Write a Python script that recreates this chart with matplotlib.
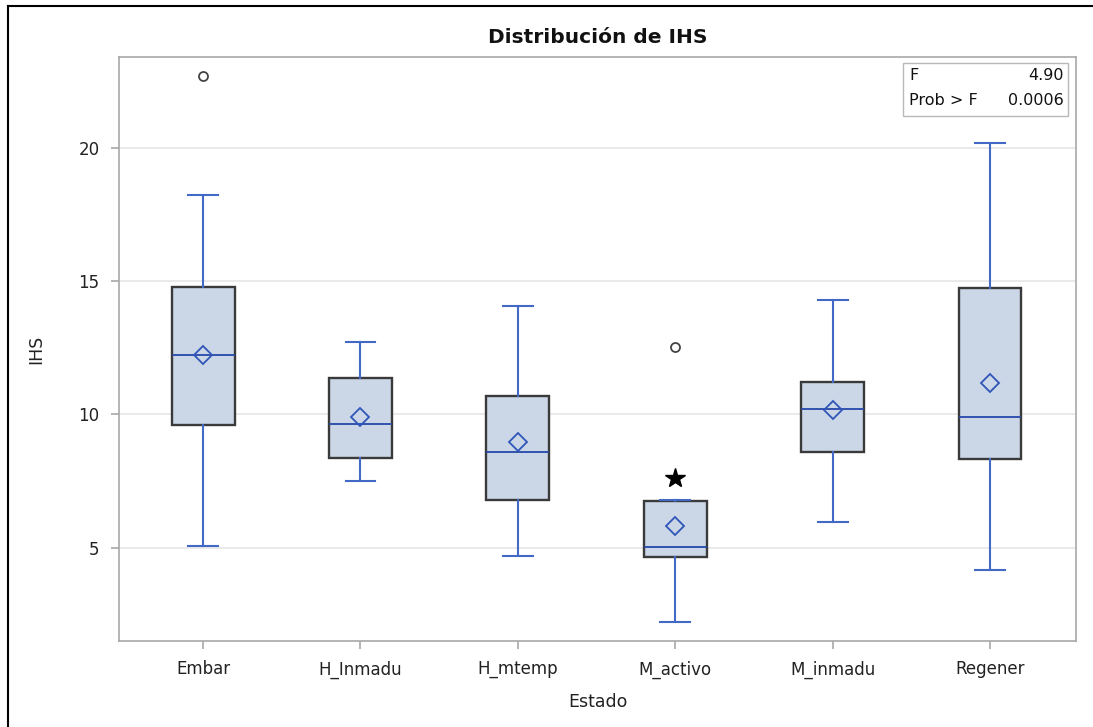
import matplotlib
matplotlib.use("Agg")
import matplotlib.pyplot as plt
from matplotlib.lines import Line2D

plt.rcParams['font.family'] = ['DejaVu Sans']

# group summaries
estados = ['Embar', 'H_Inmadu', 'H_mtemp', 'M_activo', 'M_inmadu', 'Regener']
whislo = [5.05, 7.49, 4.70, 2.23, 5.98, 4.18]
q1 = [9.59, 8.35, 6.80, 4.66, 8.58, 8.31]
med = [12.22, 9.63, 8.58, 5.02, 10.20, 9.89]
media = [12.22, 9.89, 8.95, 5.83, 10.15, 11.19]
q3 = [14.79, 11.36, 10.68, 6.75, 11.21, 14.72]
whishi = [18.22, 12.71, 14.06, 6.80, 14.30, 20.17]
atipicos = [[22.7], [], [], [12.53], [], []]
extremos = [[], [], [], [7.63], [], []]

f_val = '4.90'
p_val = '0.0006'

fig = plt.figure(figsize=(10.93, 7.27), dpi=100)
ax = fig.add_axes([0.1089, 0.1183, 0.8755, 0.8033])

stats = []
for i, e in enumerate(estados):
    stats.append(dict(label=e, whislo=whislo[i], q1=q1[i], med=med[i],
                      q3=q3[i], whishi=whishi[i], mean=media[i],
                      fliers=atipicos[i]))

azul = '#4269c6'
ax.bxp(stats, positions=range(len(estados)), widths=0.40, capwidths=0.19,
       patch_artist=True, showmeans=True, showfliers=True,
       boxprops=dict(facecolor='#cbd6e6', edgecolor='#3a3a3a', linewidth=1.7),
       whiskerprops=dict(color=azul, linewidth=1.5),
       capprops=dict(color=azul, linewidth=1.5),
       medianprops=dict(color='#2748a8', linewidth=1.3),
       meanprops=dict(marker='D', markersize=9, markerfacecolor='none',
                      markeredgecolor='#2f55b8', markeredgewidth=1.3),
       flierprops=dict(marker='o', markersize=6.5, markerfacecolor='none',
                       markeredgecolor='#444444', markeredgewidth=1.3))

for i, vals in enumerate(extremos):
    if vals:
        ax.plot([i] * len(vals), vals, marker='*', markersize=15,
                color='black', linestyle='none', zorder=4)

ax.set_xlim(-0.534, 5.546)
ax.set_ylim(1.5, 23.4)
ax.set_yticks([5, 10, 15, 20])
ax.set_xticks(range(len(estados)))
ax.set_xticklabels(estados)
ax.yaxis.grid(True, color='#e6e6e6', linewidth=1.2)
ax.set_axisbelow(True)

for s in ax.spines.values():
    s.set_color('#a8a8a8')
    s.set_linewidth(1.2)
ax.tick_params(axis='both', colors='#a8a8a8', length=6, width=1.2,
               labelcolor='#222222', labelsize=12, pad=8)

ax.set_title('Distribución de IHS', fontsize=14.5, fontweight='bold',
             color='#111111', pad=10)
ax.set_xlabel('Estado', fontsize=12.5, color='#222222', labelpad=10)
ax.set_ylabel('IHS', fontsize=12.5, color='#222222', labelpad=24)

# F statistic inset
ax.text(0.8255, 0.969, 'F', transform=ax.transAxes, fontsize=11.5,
        ha='left', va='center', color='#111111', zorder=6)
ax.text(0.9875, 0.969, f_val, transform=ax.transAxes, fontsize=11.5,
        ha='right', va='center', color='#111111', zorder=6)
ax.text(0.8255, 0.9247, 'Prob > F', transform=ax.transAxes, fontsize=11.5,
        ha='left', va='center', color='#111111', zorder=6)
ax.text(0.9875, 0.9247, p_val, transform=ax.transAxes, fontsize=11.5,
        ha='right', va='center', color='#111111', zorder=6)
ax.add_patch(plt.Rectangle((0.8192, 0.899), 0.1724, 0.0907,
                           transform=ax.transAxes, facecolor='white',
                           edgecolor='#b8b8b8', linewidth=1.0, zorder=5))

# outer frame (only top and left visible)
fig.add_artist(Line2D([8 / 1093, 1], [1 - 6 / 727, 1 - 6 / 727],
                      color='black', linewidth=1.5))
fig.add_artist(Line2D([8 / 1093, 8 / 1093], [0, 1 - 6 / 727],
                      color='black', linewidth=1.5))

fig.savefig('out.png', dpi=100)
